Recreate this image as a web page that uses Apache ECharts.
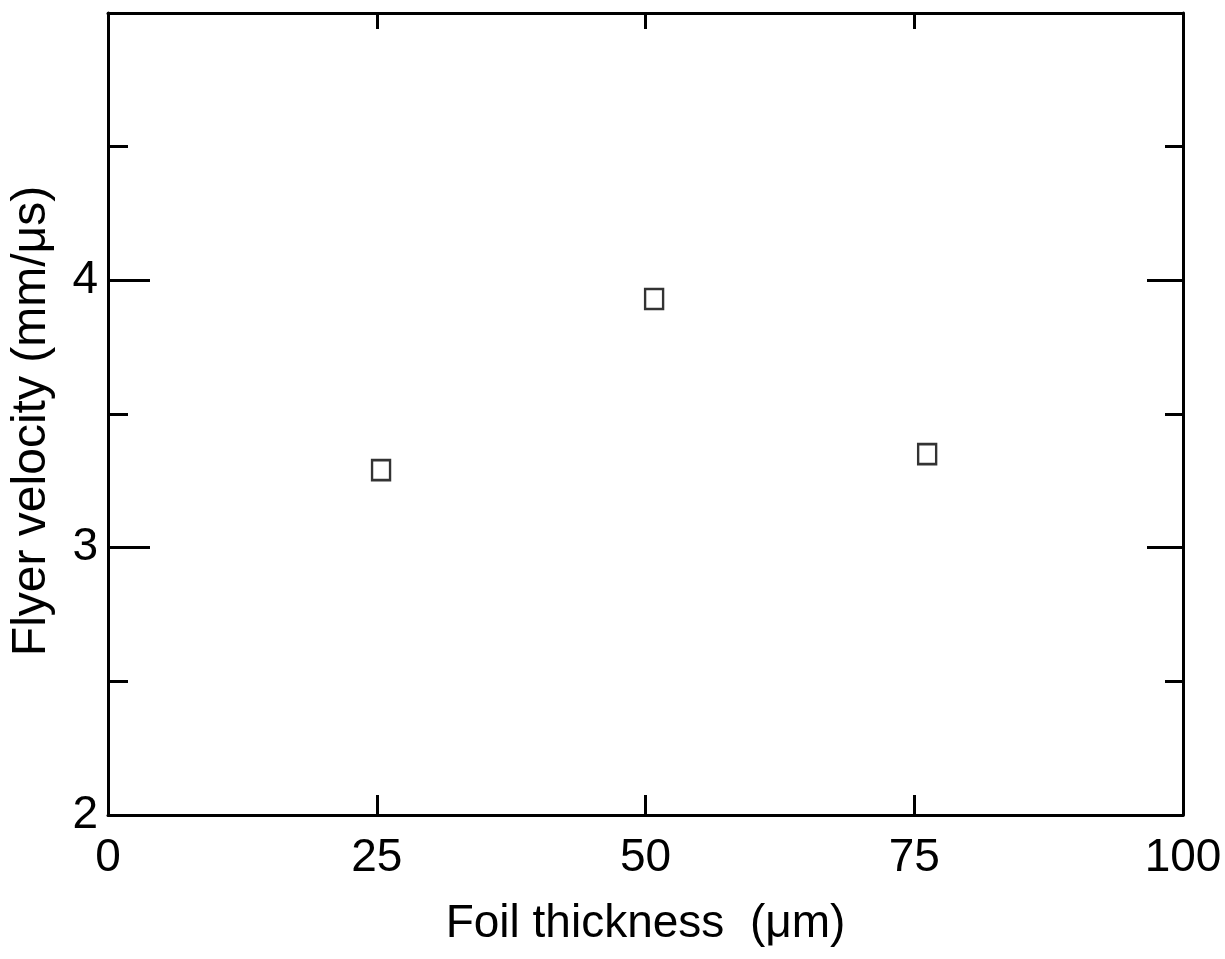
<!DOCTYPE html>
<html>
<head>
<meta charset="utf-8">
<script src="https://cdn.jsdelivr.net/npm/echarts@6/dist/echarts.min.js"></script>
<style>html,body{margin:0;padding:0;background:#fff}#c{width:1225px;height:959px}</style>
</head>
<body>
<div id="c"></div>
<script>
// Data
const foilThickness = [25.4, 50.8, 76.2];      // μm
const flyerVelocity = [3.29, 3.93, 3.35];      // mm/μs
const xTicks = [0, 25, 50, 75, 100];
const yTickLabels = [2, 3, 4];

const FONT = '"Liberation Sans", Arial, Helvetica, sans-serif';
const chart = echarts.init(document.getElementById('c'));
const axisLine = {show: true, onZero: false, lineStyle: {color: '#000', width: 3}};
const points = foilThickness.map((x, i) => [x, flyerVelocity[i]]);

chart.setOption({
  backgroundColor: '#fff',
  animation: false,
  grid: {left: 107, top: 13, width: 1076, height: 802, containLabel: false},
  xAxis: [
    {
      type: 'value', position: 'bottom', min: 0, max: 100, interval: 25,
      axisLine: axisLine,
      axisTick: {show: true, inside: true, length: 20, lineStyle: {color: '#000', width: 3}},
      axisLabel: {show: true, color: '#000', fontSize: 46, fontFamily: FONT, margin: 20,
        formatter: v => xTicks.includes(v) ? String(v) : ''},
      splitLine: {show: false},
      name: 'Foil thickness  (\u03bcm)', nameLocation: 'middle', nameGap: 86,
      nameTextStyle: {color: '#000', fontSize: 46, fontFamily: FONT}
    },
    {
      type: 'value', position: 'top', min: 0, max: 100, interval: 25,
      axisLine: axisLine,
      axisTick: {show: true, inside: true, length: 16, lineStyle: {color: '#000', width: 3}},
      axisLabel: {show: false}, splitLine: {show: false}
    }
  ],
  yAxis: [
    {
      type: 'value', position: 'left', min: 2, max: 5, interval: 1,
      axisLine: axisLine,
      axisTick: {show: true, inside: true, length: 42, lineStyle: {color: '#000', width: 3}},
      minorTick: {show: true, splitNumber: 2, length: 20, lineStyle: {color: '#000', width: 3}},
      axisLabel: {show: true, color: '#000', fontSize: 46, fontFamily: FONT, margin: 10,
        formatter: v => yTickLabels.includes(v) ? String(v) : ''},
      splitLine: {show: false}, minorSplitLine: {show: false},
      name: 'Flyer velocity (mm/\u03bcs)', nameLocation: 'middle', nameGap: 52, nameRotate: 90,
      nameTextStyle: {color: '#000', fontSize: 48, fontFamily: FONT, padding: [0, 14, 0, 0]}
    },
    {
      type: 'value', position: 'right', min: 2, max: 5, interval: 1,
      axisLine: axisLine,
      axisTick: {show: true, inside: true, length: 36, lineStyle: {color: '#000', width: 3}},
      minorTick: {show: true, splitNumber: 2, length: 18, lineStyle: {color: '#000', width: 3}},
      axisLabel: {show: false}, splitLine: {show: false}, minorSplitLine: {show: false}
    }
  ],
  series: [{
    type: 'scatter', xAxisIndex: 0, yAxisIndex: 0,
    data: points,
    symbol: 'rect', symbolSize: [18, 20],
    itemStyle: {color: '#fff', borderColor: '#000', borderWidth: 2.5}
  }]
});
</script>
</body>
</html>
